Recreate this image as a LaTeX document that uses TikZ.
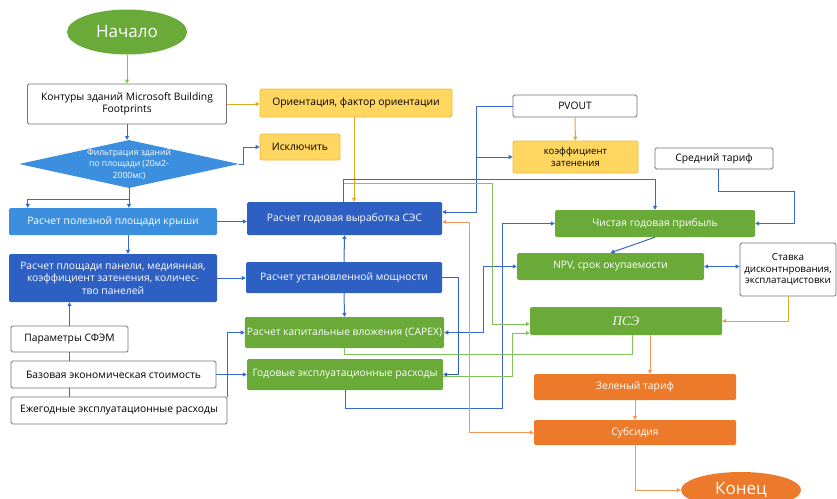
\documentclass[tikz,border=0pt]{standalone}
\usepackage{fontspec}
\setmainfont{Open Sans}
\newfontfamily\psefont{Liberation Serif}
\usetikzlibrary{shapes.geometric,arrows.meta}

\definecolor{bgreen}{RGB}{106,170,56}
\definecolor{dblue}{RGB}{46,96,196}
\definecolor{lblue}{RGB}{60,142,222}
\definecolor{byellow}{RGB}{255,214,96}
\definecolor{yedge}{RGB}{236,186,60}
\definecolor{borange}{RGB}{237,122,42}
\definecolor{lgreen}{RGB}{130,194,90}
\definecolor{lnblue}{RGB}{56,104,204}
\definecolor{lnorange}{RGB}{243,150,90}
\definecolor{lngold}{RGB}{224,168,40}

\tikzstyle{box}=[rectangle,rounded corners=1.5pt,inner sep=2pt,align=center,font=\fontsize{10.3}{12.5}\selectfont]
\tikzstyle{plain}=[box,draw=black!55,fill=white,line width=0.8pt]
\tikzstyle{yel}=[box,draw=yedge,fill=byellow,line width=0.8pt]
\tikzstyle{grn}=[box,fill=bgreen,text=white]
\tikzstyle{dbl}=[box,fill=dblue,text=white]
\tikzstyle{lbl}=[box,fill=lblue,text=white]
\tikzstyle{org}=[box,fill=borange,text=white]
\tikzstyle{link}=[line width=1pt,-{Triangle[length=4pt,width=4pt]}]
\tikzstyle{both}=[line width=1pt,{Triangle[length=4pt,width=4pt]}-{Triangle[length=4pt,width=4pt]}]

\begin{document}
\begin{tikzpicture}[x=1pt,y=-1pt]
\useasboundingbox (0,0) rectangle (837,498);

% left column
\node[ellipse,fill=bgreen,text=white,minimum width=120,minimum height=45,font=\fontsize{17}{20}\selectfont] (start) at (127,32) {Начало};
\node[plain,minimum width=199,minimum height=40] (contours) at (127,104) {Контуры зданий Microsoft Building\\Footprints};
\node[diamond,fill=lblue,minimum width=220,minimum height=48,inner sep=0pt] (filter) at (129,164) {};
\node[text=white,align=center,font=\fontsize{8.6}{11.5}\selectfont] (filtertxt) at (filter) {Фильтрация зданий\\по площади (20м2-\\2000мс)};
\node[lbl,minimum width=208,minimum height=27] (roof) at (113,221.5) {Расчет полезной площади крыши};
\node[dbl,minimum width=208,minimum height=48] (panel) at (113,278) {Расчет площади панели, медиянная,\\коэффициент затенения, количес-\\тво панелей};
\node[plain,minimum width=117,minimum height=26] (params) at (69.5,339) {Параметры СФЭМ};
\node[plain,minimum width=205,minimum height=27] (base) at (113.5,374.5) {Базовая экономическая стоимость};
\node[plain,minimum width=216,minimum height=27] (annual) at (119,410.5) {Ежегодные эксплуатационные расходы};

% middle column
\node[yel,minimum width=192,minimum height=28] (orient) at (356,103) {Ориентация, фактор ориентации};
\node[yel,minimum width=80,minimum height=26] (exclude) at (300,147) {Исключить};
\node[dbl,minimum width=195,minimum height=33] (yield) at (344.5,218.5) {Расчет годовая выработка СЭС};
\node[dbl,minimum width=196,minimum height=31] (power) at (344,277.5) {Расчет установленной мощности};
\node[grn,minimum width=195,minimum height=31] (capex) at (344.5,332.5) {Расчет капитальные вложения (CAPEX)};
\node[grn,minimum width=196,minimum height=31] (opex) at (345,374.5) {Годовые эксплуатационные расходы};

% right column
\node[plain,minimum width=124,minimum height=22] (pvout) at (575,106) {PVOUT};
\node[yel,minimum width=125,minimum height=32,font=\fontsize{9.6}{11.5}\selectfont] (shade) at (575.5,157) {коэффициент\\затенения};
\node[plain,minimum width=118,minimum height=21] (tariff) at (714,158.5) {Средний тариф};
\node[grn,minimum width=200,minimum height=27] (profit) at (655,223.5) {Чистая годовая прибыль};
\node[grn,minimum width=187,minimum height=27] (npv) at (610.5,266.5) {NPV, срок окупаемости};
\node[plain,minimum width=96,minimum height=53,inner sep=1pt,font=\fontsize{9.8}{11.8}\selectfont] (rate) at (788,269.5) {Ставка\\дисконтнрования,\\эксплатацистовки};
\node[grn,minimum width=192,minimum height=28,font=\fontsize{13}{15}\psefont\itshape] (pse) at (626,321) {ПСЭ};
\node[org,minimum width=202,minimum height=26] (gtariff) at (635,387) {Зеленый тариф};
\node[org,minimum width=202,minimum height=25] (subsidy) at (635,432.5) {Субсидия};
\node[ellipse,fill=borange,text=white,minimum width=120,minimum height=36,font=\fontsize{17}{20}\selectfont] (finish) at (741,490) {Конец};

% connectors
\draw[link,draw=lgreen] (start) -- (contours);
\draw[link,draw=lngold] (contours.east) -- (contours.east -| orient.west);
\draw[link,draw=lnblue] (contours.south) -- (contours.south |- filter.north);
\draw[link,draw=lnblue] (filter.east) -- ++(4,0) |- (exclude.west);
\draw[link,draw=lnblue] (filter.south) -- (filter.south |- roof.north);
\draw[link,draw=lnblue] (filter.south) -- ++(0,11) -| ([xshift=19pt]roof.north west);
\draw[link,draw=lnblue] (roof.east) -- (roof.east -| yield.west);
\draw[link,draw=lnblue] ([xshift=15pt]roof.south) -- ([xshift=15pt]panel.north);
\draw[link,draw=lnblue] (panel.east) -- (panel.east -| power.west);
\draw[link,draw=lnblue] (power.north) -- (yield.south);
\draw[link,draw=lnblue] (power.south) -- (capex.north);
\draw[link,draw=lnblue] (params.north) -- (params.north |- panel.south);
\draw[lnblue,line width=1pt] (params.south) -- (params.south |- base.north)
  (base.south -| params.south) -- (params.south |- annual.north);
\draw[link,draw=lnblue] (base.east) -- (base.east -| opex.west);
\draw[link,draw=lnblue] (annual.north east) |- (capex.west);
\draw[link,draw=dblue] (power.east) -- ++(16,0) |- (opex.east);
\draw[both,draw=lnblue] (capex.east) -- ++(39,0) |- (npv.west);
\draw[link,draw=lnblue] (opex.south) -- ++(0,18) -- ++(157,0) |- (profit.west);
\draw[link,draw=lngold] (pvout) -- (shade);
\draw[link,draw=lnblue] (pvout.west) -- ++(-36,0) |- ([yshift=6.5pt]yield.east);
\coordinate (pvsplit) at (477,157);
\draw[link,draw=lnblue] (pvsplit) -- (pvsplit -| shade.west);
\draw[link,draw=lngold] ([xshift=-2pt]orient.south) -- ([xshift=-2pt]orient.south |- yield.north);
\draw[link,draw=lgreen] ([xshift=-1.5pt]yield.north) -- ++(0,-18) -- ++(149,0) |- ([yshift=-3pt]pse.west);
\draw[link,draw=lnblue] ([xshift=-1.5pt]yield.north) -- ++(0,-22) -| (profit.north);
\draw[lgreen,line width=1pt] (capex.south) -- ++(0,6) -| ([xshift=6pt]pse.south);
\draw[link,draw=lgreen] ([yshift=-1.5pt]opex.east) -- ++(69,0) |- ([yshift=-12pt]pse.west);
\draw[both,draw=lnorange] ([yshift=-3.5pt]yield.east) -- ++(27,0) |- (subsidy.west);
\draw[link,draw=lngold] (rate.south) |- (pse.east);
\draw[link,draw=lnblue] ([xshift=4pt]tariff.south) -- ++(0,22) -- ++(76,0) |- (profit.east);
\draw[both,draw=lnblue] (npv.east) -- (npv.east -| rate.west);
\draw[link,draw=lnblue] (profit.south) -- (npv.north);
\draw[link,draw=lnorange] ([xshift=24pt]pse.south) -- ([xshift=24pt]pse.south |- gtariff.north);
\draw[link,draw=lnorange] (gtariff.south) -- (subsidy.north);
\draw[link,draw=lnorange] (subsidy.south) |- (finish.west);
\end{tikzpicture}
\end{document}
